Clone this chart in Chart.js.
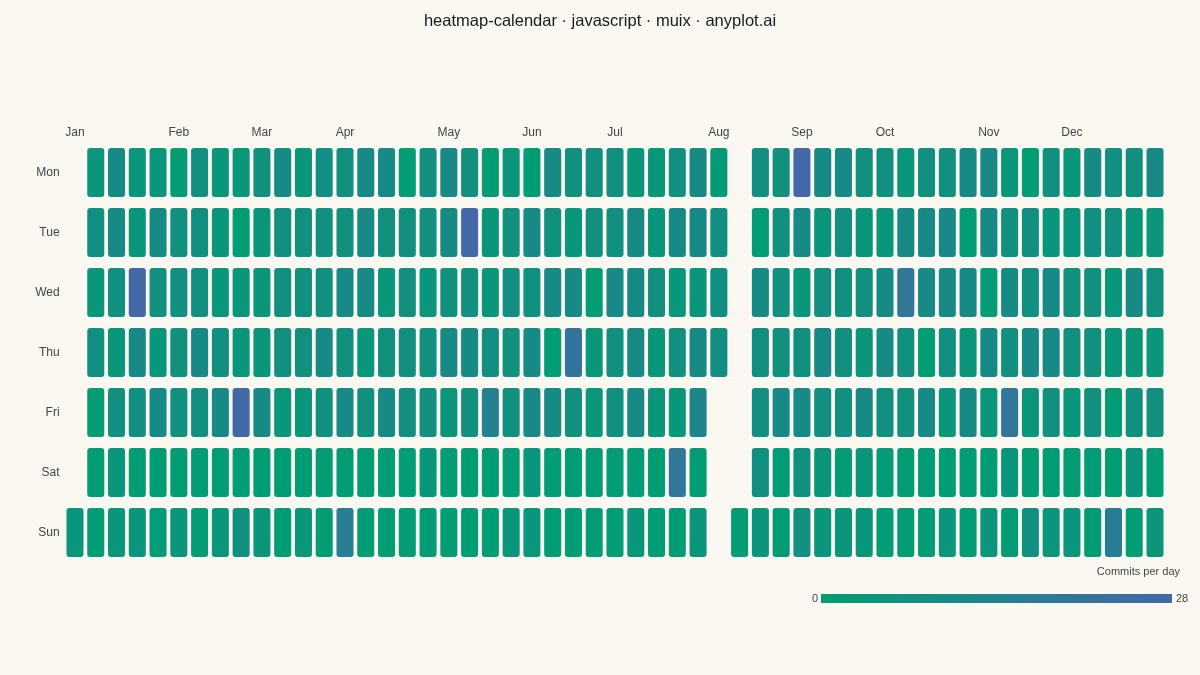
<!DOCTYPE html>
<html>
<head>
<meta charset="utf-8">
<script src="https://cdn.jsdelivr.net/npm/chart.js@4.4.1/dist/chart.umd.min.js"></script>
<style>
  html, body { margin: 0; padding: 0; background: #FAF8F1; }
  #heat { display: block; }
</style>
</head>
<body>
<canvas id="heat" width="1200" height="675"></canvas>
<script>
const DAYS = ['Mon', 'Tue', 'Wed', 'Thu', 'Fri', 'Sat', 'Sun'];
const MONTHS = ['Jan', 'Feb', 'Mar', 'Apr', 'May', 'Jun', 'Jul', 'Aug', 'Sep', 'Oct', 'Nov', 'Dec'];
const MONTH_WEEKS = [0, 5, 9, 13, 18, 22, 26, 31, 35, 39, 44, 48];
const VMIN = 0, VMAX = 28;
const LOW = [0, 158, 115], HIGH = [68, 103, 168];
const TITLE = 'heatmap-calendar · javascript · muix · anyplot.ai';

// commits per day, one entry per week column (col 0 = week of Sun 1 Jan 2023), null = no day / no data
const MON = [null, 4, 10, 4, 4, 1, 7, 4, 4, 7, 10, 4, 8, 7, 10, 10, 1, 7, 10, 7, 1, 4, 1, 10, 7, 7, 7, 4, 4, 7, 10, 2, null, 7, 7, 28, 10, 10, 7, 7, 4, 7, 7, 10, 10, 4, 1, 7, 4, 10, 7, 7, 10];
const TUE = [null, 7, 10, 4, 10, 7, 7, 4, 1, 4, 7, 7, 7, 7, 10, 7, 7, 7, 10, 28, 4, 7, 10, 7, 4, 7, 7, 10, 4, 10, 10, 7, null, 1, 7, 10, 4, 7, 4, 4, 10, 10, 10, 1, 10, 7, 7, 4, 4, 7, 7, 4, 4];
const WED = [null, 4, 7, 27, 7, 7, 7, 4, 4, 4, 7, 7, 7, 10, 10, 4, 7, 4, 7, 7, 4, 8, 7, 10, 10, 1, 10, 10, 7, 4, 4, 7, null, 10, 7, 4, 7, 7, 7, 10, 20, 10, 10, 10, 1, 10, 7, 10, 7, 7, 4, 10, 7];
const THU = [null, 7, 4, 10, 4, 7, 10, 7, 4, 4, 7, 7, 10, 7, 4, 7, 7, 7, 10, 10, 8, 7, 10, 1, 22, 4, 7, 10, 4, 7, 10, 8, null, 7, 7, 7, 10, 7, 4, 10, 7, 1, 7, 4, 10, 7, 10, 10, 7, 7, 4, 4, 4];
const FRI = [null, 1, 7, 7, 10, 7, 7, 10, 27, 10, 4, 4, 7, 10, 7, 10, 7, 7, 4, 7, 14, 7, 10, 10, 7, 4, 7, 10, 4, 4, 12, null, null, 7, 10, 10, 7, 7, 10, 7, 7, 10, 4, 10, 4, 20, 4, 7, 4, 7, 1, 7, 7];
const SAT = [null, 1, 4, 1, 1, 1, 1, 1, 1, 1, 1, 1, 1, 1, 1, 1, 1, 4, 1, 1, 1, 1, 4, 1, 1, 1, 1, 1, 1, 20, 1, null, null, 7, 1, 7, 4, 1, 4, 1, 1, 1, 1, 1, 1, 4, 1, 1, 1, 1, 1, 4, 1];
const SUN = [4, 1, 4, 4, 1, 4, 1, 4, 7, 4, 1, 4, 1, 16, 1, 1, 1, 1, 1, 1, 1, 4, 4, 1, 1, 1, 1, 4, 1, 1, 4, null, 1, 4, 1, 7, 4, 4, 4, 1, 1, 1, 4, 1, 4, 1, 7, 4, 4, 1, 17, 1, 4];

const ROWS = [MON, TUE, WED, THU, FRI, SAT, SUN];
const FONT = '"Liberation Sans", Arial, sans-serif';

function colorFor(v) {
  const t = Math.max(0, Math.min(1, (v - VMIN) / (VMAX - VMIN)));
  const c = LOW.map((lo, i) => Math.round(lo + (HIGH[i] - lo) * t));
  return 'rgb(' + c.join(',') + ')';
}

// page title (centred on the canvas) + colour bar under the grid
const decorations = {
  id: 'decorations',
  afterDraw(chart) {
    const ctx = chart.ctx;
    ctx.save();
    ctx.font = '16.5px ' + FONT;
    ctx.fillStyle = '#1a1a1a';
    ctx.textAlign = 'center';
    ctx.textBaseline = 'middle';
    ctx.fillText(TITLE, 600, 21);

    const x0 = 821, x1 = 1172, y = 594, h = 9;
    const grad = ctx.createLinearGradient(x0, 0, x1, 0);
    grad.addColorStop(0, colorFor(VMIN));
    grad.addColorStop(0.5, colorFor((VMIN + VMAX) / 2));
    grad.addColorStop(1, colorFor(VMAX));
    ctx.fillStyle = grad;
    ctx.fillRect(x0, y, x1 - x0, h);
    ctx.font = '11px ' + FONT;
    ctx.fillStyle = '#444';
    ctx.textAlign = 'right';
    ctx.fillText('Commits per day', 1180, 572);
    ctx.fillText(String(VMIN), x0 - 3, y + h / 2);
    ctx.textAlign = 'left';
    ctx.fillText(String(VMAX), x1 + 4, y + h / 2);
    ctx.restore();
  }
};

Chart.defaults.font.family = FONT;

new Chart(document.getElementById('heat'), {
  type: 'bar',
  data: {
    labels: MON.map((_, i) => 'W' + i),
    datasets: ROWS.map((vals, d) => ({
      label: DAYS[d],
      data: vals.map(v => v === null ? null : [d - 0.41, d + 0.41]),
      backgroundColor: vals.map(v => v === null ? 'rgba(0,0,0,0)' : colorFor(v)),
      borderRadius: 3,
      borderSkipped: false,
      barPercentage: 0.82,
      categoryPercentage: 1,
      grouped: false
    }))
  },
  options: {
    responsive: false,
    animation: false,
    layout: { padding: { left: 0, right: 34.6, top: 117.5, bottom: 112.5 } },
    plugins: {
      legend: { display: false },
      title: { display: false },
      tooltip: {
        callbacks: {
          label: (c) => DAYS[c.datasetIndex] + ': ' + ROWS[c.datasetIndex][c.dataIndex] + ' commits'
        }
      }
    },
    scales: {
      x: {
        position: 'top',
        grid: { display: false, drawTicks: false },
        border: { display: false },
        afterFit: (s) => { s.height = 25; },
        ticks: {
          autoSkip: false,
          maxRotation: 0,
          minRotation: 0,
          padding: 2.3,
          color: '#444',
          font: { size: 12 },
          callback: (value, index) => {
            const m = MONTH_WEEKS.indexOf(index);
            return m >= 0 ? MONTHS[m] : '';
          }
        }
      },
      y: {
        type: 'linear',
        reverse: true,
        min: -0.5,
        max: 6.5,
        grid: { display: false, drawTicks: false },
        border: { display: false },
        afterFit: (s) => { s.width = 64.6; },
        afterBuildTicks: (s) => { s.ticks = DAYS.map((_, i) => ({ value: i })); },
        ticks: {
          padding: 5,
          color: '#444',
          font: { size: 12 },
          callback: (value) => DAYS[value]
        }
      }
    }
  },
  plugins: [decorations]
});
</script>
</body>
</html>
